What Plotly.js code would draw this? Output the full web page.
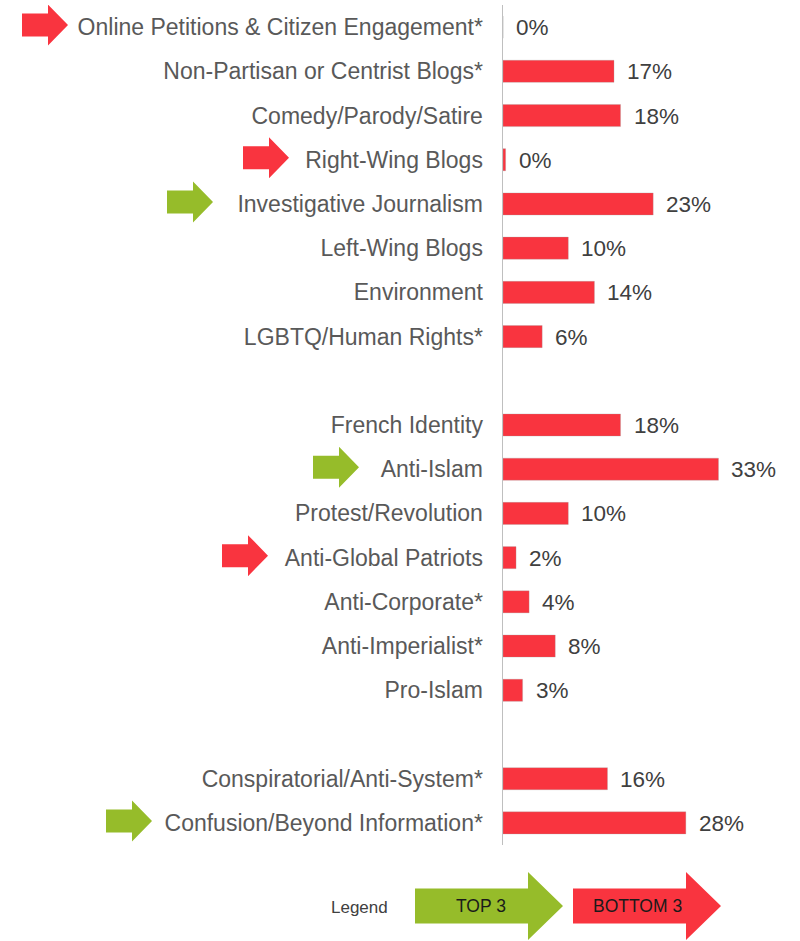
<!DOCTYPE html>
<html>
<head>
<meta charset="utf-8">
<script src="https://cdn.plot.ly/plotly-3.0.1.min.js"></script>
<style>html,body{margin:0;padding:0;background:#fff;}#chart{width:800px;height:941px;}</style>
</head>
<body>
<div id="chart"></div>
<script>
// ---- data ----
const groupA = ["Online Petitions & Citizen Engagement*", "Non-Partisan or Centrist Blogs*", "Comedy/Parody/Satire", "Right-Wing Blogs", "Investigative Journalism", "Left-Wing Blogs", "Environment", "LGBTQ/Human Rights*"];
const valuesA = [0, 17, 18, 0.4, 23, 10, 14, 6];
const groupB = ["French Identity", "Anti-Islam", "Protest/Revolution", "Anti-Global Patriots", "Anti-Corporate*", "Anti-Imperialist*", "Pro-Islam"];
const valuesB = [18, 33, 10, 2, 4, 8, 3];
const groupC = ["Conspiratorial/Anti-System*", "Confusion/Beyond Information*"];
const valuesC = [16, 28];
const topThree = ["Investigative Journalism", "Anti-Islam", "Confusion/Beyond Information*"];
const bottomThree = ["Online Petitions & Citizen Engagement*", "Right-Wing Blogs", "Anti-Global Patriots"];
const legendLabels = ["Legend", "TOP 3", "BOTTOM 3"];

// ---- layout constants ----
const W = 800, H = 941;
const M = {l: 503, r: 36, t: 5, b: 96};
const PW = W - M.l - M.r, PH = H - M.t - M.b;
const RED = "#F9343F", GREEN = "#96BC2A";
const FONT = "Liberation Sans, Arial, sans-serif";

// build slot positions (blank slot between groups)
const cats = [], vals = [], pos = [];
let slot = 0;
[[groupA, valuesA], [groupB, valuesB], [groupC, valuesC]].forEach((g, gi) => {
  g[0].forEach((c, i) => { cats.push(c); vals.push(g[1][i]); pos.push(slot); slot++; });
  if (gi < 2) slot++;
});
const nSlots = slot;
const pxPerSlot = PH / nSlots;

const px2paperX = px => (px - M.l) / PW;
const py2paperY = py => (M.t + PH - py) / PH;

function arrowXY(tipPx, cy, bodyW, headW, bodyH, headH, yconv) {
  const x0 = px2paperX(tipPx - bodyW - headW), x1 = px2paperX(tipPx - headW), x2 = px2paperX(tipPx);
  const Y = d => yconv(cy, d);
  return `M${x0},${Y(-bodyH)} L${x1},${Y(-bodyH)} L${x1},${Y(-headH)} L${x2},${Y(0)} L${x1},${Y(headH)} L${x1},${Y(bodyH)} L${x0},${Y(bodyH)} Z`;
}

// arrow tip positions (pixels) next to the marked labels
const arrowTips = {
  "Online Petitions & Citizen Engagement*": 68,
  "Right-Wing Blogs": 289,
  "Investigative Journalism": 213,
  "Anti-Islam": 359,
  "Anti-Global Patriots": 268,
  "Confusion/Beyond Information*": 152
};

const shapes = [];
topThree.concat(bottomThree).forEach(c => {
  const idx = cats.indexOf(c);
  const color = topThree.includes(c) ? GREEN : RED;
  const path = arrowXY(arrowTips[c], pos[idx] - 2 / pxPerSlot, 26, 20, 11.5, 20.5,
    (cy, d) => cy + d / pxPerSlot);
  shapes.push({type: "path", xref: "paper", yref: "y", path: path, fillcolor: color, line: {width: 0}, layer: "above"});
});
// legend arrows
const lp = (cyPx, d) => py2paperY(cyPx - d);
shapes.push({type: "path", xref: "paper", yref: "paper", path: arrowXY(563, 906, 113, 35, 17.5, 34, lp), fillcolor: GREEN, line: {width: 0}});
shapes.push({type: "path", xref: "paper", yref: "paper", path: arrowXY(721, 906, 113, 35, 17.5, 34, lp), fillcolor: RED, line: {width: 0}});

const annotations = vals.map((v, i) => ({
  x: v, y: pos[i], xref: "x", yref: "y", text: Math.round(v) + "%", showarrow: false,
  xanchor: "left", yanchor: "middle", xshift: 11, yshift: -0.5,
  font: {family: FONT, size: 22.5, color: "#404040"}
}));
annotations.push({xref: "paper", yref: "paper", x: px2paperX(359), y: py2paperY(907), text: legendLabels[0], showarrow: false, xanchor: "center", yanchor: "middle", font: {family: FONT, size: 17, color: "#404040"}});
annotations.push({xref: "paper", yref: "paper", x: px2paperX(481), y: py2paperY(906), text: legendLabels[1], showarrow: false, xanchor: "center", yanchor: "middle", font: {family: FONT, size: 17.5, color: "#1a1a1a"}});
annotations.push({xref: "paper", yref: "paper", x: px2paperX(637), y: py2paperY(906), text: legendLabels[2], showarrow: false, xanchor: "center", yanchor: "middle", font: {family: FONT, size: 17.5, color: "#1a1a1a"}});

const trace = {
  type: "bar", orientation: "h", x: vals, y: pos,
  marker: {color: RED, line: {color: "rgba(160,160,160,0.5)", width: 0.6}},
  width: 0.5, hoverinfo: "skip"
};

const layout = {
  width: W, height: H, margin: M, showlegend: false,
  paper_bgcolor: "#fff", plot_bgcolor: "#fff",
  xaxis: {range: [0, PW / 6.53], visible: false, fixedrange: true},
  yaxis: {
    range: [nSlots - 0.5, -0.5], tickmode: "array", tickvals: pos, ticktext: cats,
    showgrid: false, zeroline: false, showline: true, linecolor: "#BFBFBF", linewidth: 1.5,
    ticks: "", ticklabelstandoff: 14,
    tickfont: {family: FONT, size: 23, color: "#595959"}
  },
  shapes: shapes, annotations: annotations
};

Plotly.newPlot("chart", [trace], layout, {staticPlot: true, displayModeBar: false});
</script>
</body>
</html>
